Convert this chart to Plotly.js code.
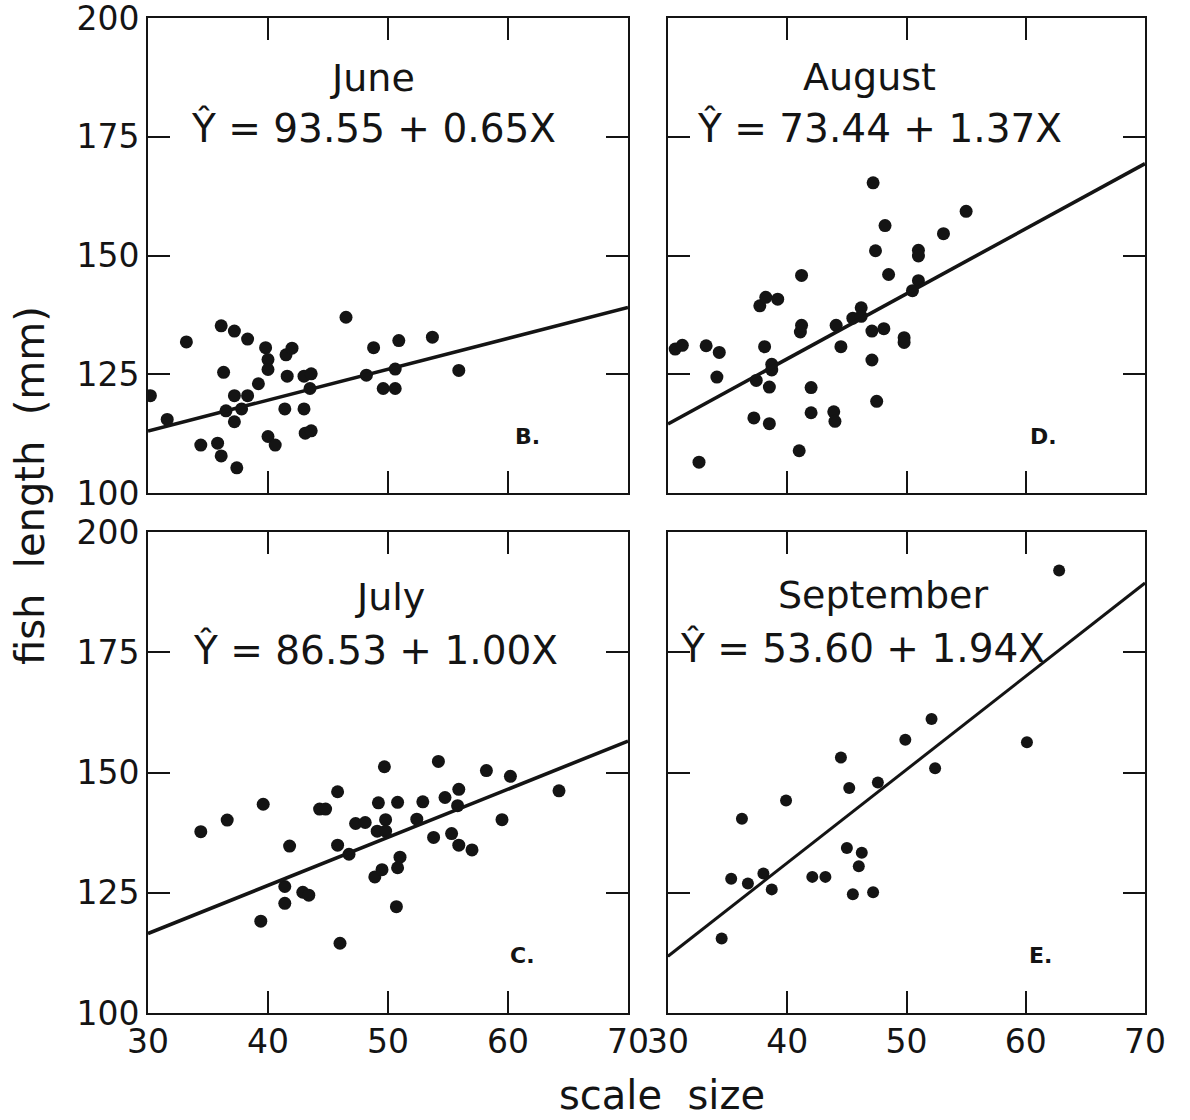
<!DOCTYPE html>
<html>
<head>
<meta charset="utf-8">
<script src="https://cdn.plot.ly/plotly-3.0.1.min.js"></script>
<style>html,body{margin:0;padding:0;background:#fff;}#chart{width:1190px;height:1120px;}</style>
</head>
<body>
<div id="chart"></div>
<script>
// ---- data ----
const months = ['June', 'August', 'July', 'September'];
const panelLetters = ['B.', 'D.', 'C.', 'E.'];
const intercepts = [93.55, 73.44, 86.53, 53.60];
const slopes = [0.65, 1.37, 1.00, 1.94];

const xTicks = [30, 40, 50, 60, 70];
const yTicks = [100, 125, 150, 175, 200];
const xRange = [30, 70];
const yRange = [100, 200];

const juneX = [30.2,31.6,33.2,34.4,35.8,36.1,36.1,36.3,36.5,37.2,37.2,37.2,37.4,37.8,38.3,38.3,39.2,39.8,40.0,40.0,40.0,40.6,41.4,41.5,42.0,41.6,43.0,43.0,43.6,43.5,43.1,43.6,46.5,48.2,48.8,49.6,50.6,50.6,50.9,53.7,55.9];
const juneY = [120.5,115.5,131.8,110.1,110.5,107.8,135.2,125.4,117.3,134.1,120.5,115.0,105.3,117.7,120.5,132.4,123.0,130.6,128.1,126.0,111.9,110.1,117.7,129.1,130.5,124.6,117.7,124.6,125.1,122.0,112.6,113.1,137.0,124.8,130.6,122.0,122.0,126.1,132.1,132.8,125.8];

const augustX = [30.6,31.2,33.2,34.3,34.1,32.6,37.2,37.4,37.7,38.2,38.1,38.5,38.5,38.7,38.7,39.2,41.2,41.0,41.1,41.2,42.0,42.0,43.9,44.0,44.1,44.5,45.5,46.2,46.2,47.1,47.1,47.5,47.2,47.4,48.2,48.5,48.1,49.8,49.8,51.0,51.0,51.0,50.5,53.1,55.0];
const augustY = [130.3,131.1,131.0,129.6,124.4,106.5,115.8,123.7,139.4,141.2,130.8,114.6,122.3,125.9,127.1,140.8,145.8,108.9,133.9,135.3,122.2,116.9,117.1,115.1,135.3,130.8,136.8,139.0,137.2,134.1,128.0,119.3,165.3,151.0,156.3,146.0,134.6,132.7,131.7,151.1,149.9,144.7,142.6,154.6,159.3];

const julyX = [34.4,36.6,39.6,39.4,41.8,41.4,41.4,42.9,43.4,44.3,44.8,45.8,45.8,46.75,46.0,47.3,48.1,49.7,49.2,49.8,49.1,49.8,48.9,49.5,50.8,51.0,50.8,50.7,52.4,52.9,54.2,53.8,54.75,55.9,55.8,55.3,55.9,57.0,58.2,60.2,59.5,64.25];
const julyY = [137.7,140.1,143.4,119.1,134.7,126.3,122.8,125.1,124.5,142.4,142.4,146.0,134.9,133.0,114.5,139.4,139.6,151.2,143.7,140.2,137.8,137.8,128.3,129.8,143.8,132.4,130.2,122.1,140.3,143.9,152.3,136.5,144.8,146.5,143.1,137.3,134.9,133.9,150.4,149.2,140.2,146.2];

const septemberX = [62.8,52.1,49.9,60.1,52.4,44.5,47.6,45.2,39.9,36.2,45.0,46.25,46.0,35.3,36.7,38.0,38.7,42.1,43.2,45.5,47.2,34.5];
const septemberY = [192.0,161.1,156.8,156.3,150.9,153.1,147.9,146.8,144.2,140.4,134.3,133.3,130.5,127.9,126.9,129.0,125.7,128.3,128.3,124.7,125.1,115.5];

const seriesX = [juneX, augustX, julyX, septemberX];
const seriesY = [juneY, augustY, julyY, septemberY];

// ---- layout geometry (pixels -> paper fractions) ----
const W = 1190, H = 1120;
const colDomains = [[148 / W, 628 / W], [668 / W, 1145 / W]];
const rowDomains = [[1 - 493 / H, 1 - 18 / H], [1 - 1013 / H, 1 - 532 / H]];
// panel order: 0 top-left, 1 top-right, 2 bottom-left, 3 bottom-right
const panelCol = [0, 1, 0, 1];
const panelRow = [0, 0, 1, 1];

const FONT = 'DejaVu Sans';
const INK = '#141414';

const traces = [];
const layout = {
  width: W, height: H,
  margin: {l: 0, r: 0, t: 0, b: 0},
  paper_bgcolor: '#ffffff',
  plot_bgcolor: '#ffffff',
  showlegend: false,
  font: {family: FONT, color: INK},
  annotations: []
};

const titlePos = [
  {tx: 0.467, ty: 0.874, ex: 0.469, ey: 0.768},
  {tx: 0.423, ty: 0.876, ex: 0.444, ey: 0.768},
  {tx: 0.504, ty: 0.865, ex: 0.473, ey: 0.755},
  {tx: 0.451, ty: 0.869, ex: 0.407, ey: 0.759}
];
const letterPos = [{x: 0.79, y: 0.12}, {x: 0.788, y: 0.12}, {x: 0.78, y: 0.12}, {x: 0.78, y: 0.12}];

for (let i = 0; i < 4; i++) {
  const sfx = i === 0 ? '' : String(i + 1);
  const xa = 'x' + sfx, ya = 'y' + sfx;
  // points
  traces.push({
    type: 'scatter', mode: 'markers',
    x: seriesX[i], y: seriesY[i],
    xaxis: xa, yaxis: ya,
    marker: {color: INK, size: i === 3 ? 12 : 13},
    hoverinfo: 'x+y'
  });
  // regression line from the printed equation
  const lx = [xRange[0], xRange[1]];
  traces.push({
    type: 'scatter', mode: 'lines',
    x: lx, y: lx.map(v => intercepts[i] + slopes[i] * v),
    xaxis: xa, yaxis: ya,
    line: {color: INK, width: i === 3 ? 3 : 3.6},
    hoverinfo: 'skip'
  });

  const common = {
    showline: true, mirror: 'ticks', linecolor: INK, linewidth: 2,
    ticks: 'inside', ticklen: 22, tickwidth: 2, tickcolor: INK,
    showgrid: false, zeroline: false, fixedrange: true,
    ticklabeloverflow: 'allow',
    tickfont: {family: FONT, size: 33, color: INK}
  };
  layout['xaxis' + sfx] = Object.assign({}, common, {
    domain: colDomains[panelCol[i]], anchor: ya, range: xRange,
    tickmode: 'array', tickvals: xTicks, ticktext: xTicks.map(String),
    showticklabels: panelRow[i] === 1, ticklabelstandoff: -2
  });
  layout['yaxis' + sfx] = Object.assign({}, common, {
    domain: rowDomains[panelRow[i]], anchor: xa, range: yRange,
    tickmode: 'array', tickvals: yTicks, ticktext: yTicks.map(String),
    showticklabels: panelCol[i] === 0, ticklabelstandoff: 0
  });

  const eq = '\u0176 = ' + intercepts[i].toFixed(2) + ' + ' + slopes[i].toFixed(2) + 'X';
  layout.annotations.push(
    {xref: xa + ' domain', yref: ya + ' domain', x: titlePos[i].tx, y: titlePos[i].ty,
     text: months[i], showarrow: false, xanchor: 'center', yanchor: 'middle',
     font: {family: FONT, size: 38, color: INK}},
    {xref: xa + ' domain', yref: ya + ' domain', x: titlePos[i].ex, y: titlePos[i].ey,
     text: eq, showarrow: false, xanchor: 'center', yanchor: 'middle',
     font: {family: FONT, size: 39, color: INK}},
    {xref: xa + ' domain', yref: ya + ' domain', x: letterPos[i].x, y: letterPos[i].y,
     text: '<b>' + panelLetters[i] + '</b>', showarrow: false, xanchor: 'center', yanchor: 'middle',
     font: {family: FONT, size: 22, color: INK}}
  );
}

layout.annotations.push(
  {xref: 'paper', yref: 'paper', x: 30 / W, y: 1 - 486 / H, text: 'fish  length  (mm)',
   textangle: -90, showarrow: false, xanchor: 'center', yanchor: 'middle',
   font: {family: FONT, size: 40, color: INK}},
  {xref: 'paper', yref: 'paper', x: 662 / W, y: 1 - 1095 / H, text: 'scale  size',
   showarrow: false, xanchor: 'center', yanchor: 'middle',
   font: {family: FONT, size: 40, color: INK}}
);

Plotly.newPlot('chart', traces, layout, {displayModeBar: false});
</script>
</body>
</html>
